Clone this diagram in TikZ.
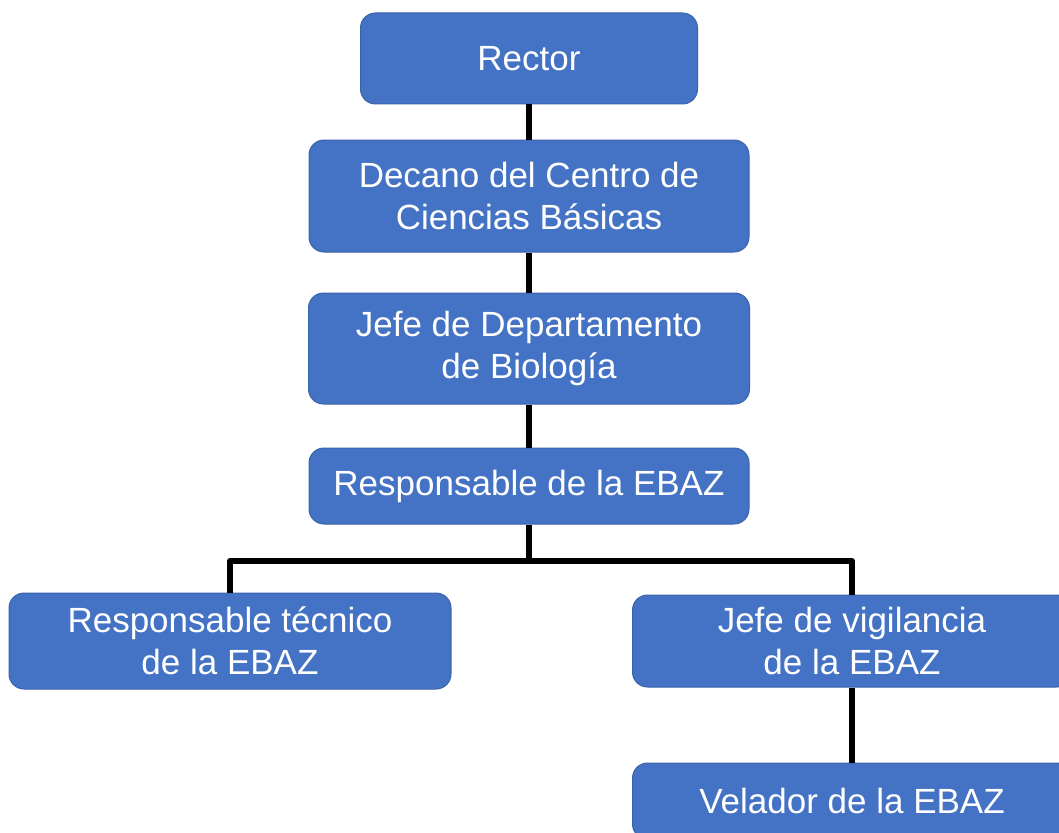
\documentclass[tikz,border=0pt]{standalone}
\usepackage{fontspec}
\setmainfont{Liberation Sans}
\definecolor{boxblue}{HTML}{4472C4}
\definecolor{boxedge}{HTML}{3B63AA}
\begin{document}
\begin{tikzpicture}[x=1pt,y=-1pt,
  orgbox/.style={rectangle, rounded corners=15pt, fill=boxblue, draw=boxedge, line width=1pt,
    text=white, font=\fontsize{35}{42}\selectfont, align=center, inner sep=0pt},
  conn/.style={line width=6pt, black, line join=round}]
\useasboundingbox (0,0) rectangle (1059,832);
\clip (0,0) rectangle (1059,832);
\fill[white] (0,0) rectangle (1059,832);
\node[orgbox, minimum width=337pt, minimum height=91pt] (rector) at (529,58.5) {Rector};
\node[orgbox, minimum width=440pt, minimum height=112pt] (decano) at (529,196) {Decano del Centro de\\Ciencias Básicas};
\node[orgbox, minimum width=441pt, minimum height=111pt] (jefe) at (529,348.5) {Jefe de Departamento\\de Biología};
\node[orgbox, minimum width=440pt, minimum height=76pt] (resp) at (529,486) {Responsable de la EBAZ};
\node[orgbox, minimum width=442pt, minimum height=96pt] (tec) at (230,641) {Responsable técnico\\de la EBAZ};
\node[orgbox, minimum width=439pt, minimum height=92pt] (vig) at (852,641) {Jefe de vigilancia\\de la EBAZ};
\node[orgbox, minimum width=439pt, minimum height=76pt] (vel) at (852,801) {Velador de la EBAZ};
\coordinate (bus) at (529,561);
\draw[conn] (rector.south) -- (decano.north);
\draw[conn] (decano.south) -- (jefe.north);
\draw[conn] (jefe.south) -- (resp.north);
\draw[conn] (resp.south) -- (bus);
\draw[conn] (tec.north) |- (bus) -| (vig.north);
\draw[conn] (vig.south) -- (vel.north);
\end{tikzpicture}
\end{document}
